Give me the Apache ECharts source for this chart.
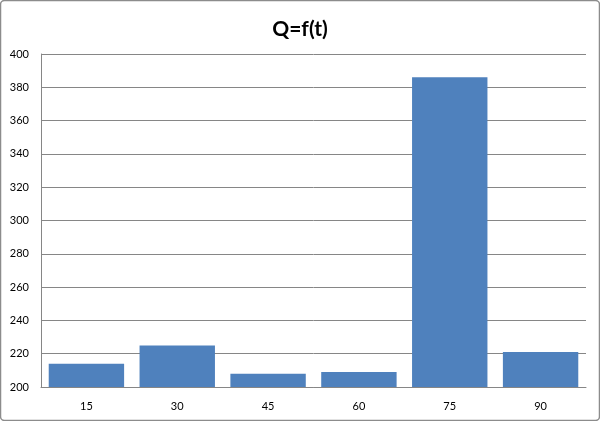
<!DOCTYPE html>
<html><head><meta charset="utf-8">
<script src="https://cdn.jsdelivr.net/npm/echarts@6/dist/echarts.min.js"></script>
<style>html,body{margin:0;padding:0;background:#fff}#c{width:600px;height:421px}</style>
</head><body><div id="c"></div>
<script>
const categories = ['15','30','45','60','75','90'];
const values = [214, 225, 208, 209, 386, 221];
const titleText = 'Q=f(t)';
const chart = echarts.init(document.getElementById('c'));
chart.setOption({
  animation:false,
  backgroundColor:'#fff',
  title:{text:titleText,left:'center',top:14,textStyle:{fontFamily:'Lato',fontWeight:'bold',fontSize:21,color:'#000'}},
  graphic:[{type:'rect',shape:{x:0.5,y:0.5,width:599,height:420,r:4},style:{fill:'none',stroke:'#8c8c8c',lineWidth:1.5},silent:true}],
  grid:{left:41,right:14,top:54,bottom:34},
  xAxis:{type:'category',data:categories,
    axisLine:{lineStyle:{color:'#868686'}},axisTick:{show:false},
    axisLabel:{color:'#000',fontFamily:'Lato',fontSize:11,margin:14}},
  yAxis:{type:'value',min:200,max:400,interval:20,
    axisLine:{show:true,lineStyle:{color:'#868686'}},axisTick:{show:false},
    splitLine:{lineStyle:{color:'#868686'}},
    axisLabel:{color:'#000',fontFamily:'Lato',fontSize:11,margin:12}},
  series:[{type:'bar',data:values,barCategoryGap:'17%',itemStyle:{color:'#4f81bd'}}]
});
</script></body></html>
